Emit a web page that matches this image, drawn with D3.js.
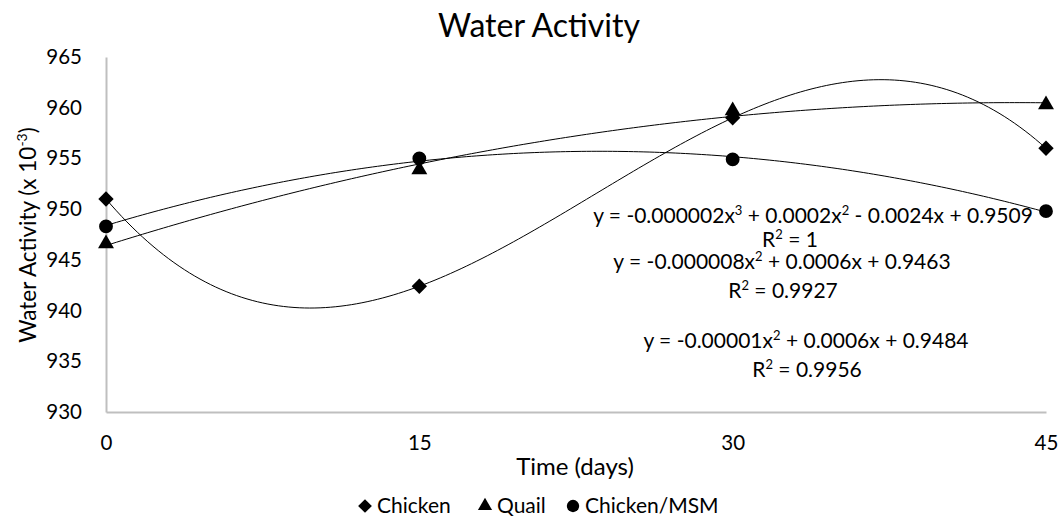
<!DOCTYPE html>
<html><head><meta charset="utf-8">
<script src="https://cdn.jsdelivr.net/npm/d3@7"></script>
<style>body{margin:0;background:#fff}svg{display:block}text{font-family:Lato,"Open Sans",sans-serif;fill:#000}</style>
</head><body><svg id="c" width="1063" height="520"></svg>
<script>
const days = [0, 15, 30, 45];
const chicken = [951.0, 942.4, 959.0, 956.0];
const quail = [946.6, 953.9, 959.7, 960.3];
const chickenMSM = [948.3, 955.0, 954.9, 949.8];
const yTicks = [930, 935, 940, 945, 950, 955, 960, 965];
const seriesNames = ["Chicken", "Quail", "Chicken/MSM"];
const trendOrders = [3, 2, 2];
const equations = [
  ["y = -0.000002x", "3", " + 0.0002x", "2", " - 0.0024x + 0.9509"],
  ["y = -0.000008x", "2", " + 0.0006x + 0.9463"],
  ["y = -0.00001x", "2", " + 0.0006x + 0.9484"]
];
const r2Labels = ["1", "0.9927", "0.9956"];

const svg = d3.select("#c");
const x = d3.scaleLinear().domain([0, 45]).range([106, 1046]);
const y = d3.scaleLinear().domain([930, 965]).range([412, 57]);

// axes
const gx = svg.append("g").attr("transform", "translate(0,412)")
  .call(d3.axisBottom(x).tickValues(days).tickSize(0).tickPadding(23));
const gy = svg.append("g").attr("transform", "translate(106,0)")
  .call(d3.axisLeft(y).tickValues(yTicks).tickSize(0).tickPadding(24));
[gx, gy].forEach(g => {
  g.select(".domain").attr("stroke", "#bfbfbf").attr("stroke-width", 2);
  g.selectAll("text").attr("font-size", 20.5).attr("font-family", "Lato");
});

// polynomial least squares
function polyfit(xs, ys, order) {
  const n = order + 1;
  const A = Array.from({length: n}, () => new Array(n + 1).fill(0));
  for (let i = 0; i < n; i++) {
    for (let j = 0; j < n; j++) A[i][j] = d3.sum(xs, xv => Math.pow(xv, i + j));
    A[i][n] = d3.sum(xs.map((xv, k) => ys[k] * Math.pow(xv, i)));
  }
  for (let c = 0; c < n; c++) {
    let p = c;
    for (let r = c + 1; r < n; r++) if (Math.abs(A[r][c]) > Math.abs(A[p][c])) p = r;
    [A[c], A[p]] = [A[p], A[c]];
    for (let r = 0; r < n; r++) if (r !== c) {
      const f = A[r][c] / A[c][c];
      for (let k = c; k <= n; k++) A[r][k] -= f * A[c][k];
    }
  }
  return A.map((row, i) => row[n] / row[i]);
}
const allSeries = [chicken, quail, chickenMSM];
const line = d3.line().x(d => x(d[0])).y(d => y(d[1]));
allSeries.forEach((vals, si) => {
  const coef = polyfit(days, vals, trendOrders[si]);
  const pts = d3.range(0, 45.01, 0.25).map(t => [t, coef.reduce((s, c, i) => s + c * Math.pow(t, i), 0)]);
  svg.append("path").attr("d", line(pts)).attr("fill", "none").attr("stroke", "#000").attr("stroke-width", 1);
});

const symTypes = [d3.symbolDiamond2, d3.symbolTriangle, d3.symbolCircle];
const symSizes = [150, 110, 150];
function marker(g, si, cx, cy, scale) {
  const s = d3.symbol().type(symTypes[si]).size(symSizes[si] * (scale || 1));
  g.append("path").attr("d", s()).attr("transform", `translate(${cx},${cy})`).attr("fill", "#000");
}
allSeries.forEach((vals, si) => {
  vals.forEach((v, i) => marker(svg, si, x(days[i]), y(v)));
});

// equation labels
const eqPos = [[813, 223], [782, 269], [806, 348]];
const r2Pos = [[790, 247], [783, 298], [807, 377]];
const fs = 21;
equations.forEach((parts, ei) => {
  const t = svg.append("text").attr("x", eqPos[ei][0]).attr("y", eqPos[ei][1])
    .attr("text-anchor", "middle").attr("font-size", fs);
  parts.forEach((p, k) => {
    if (k % 2 === 1) t.append("tspan").attr("dy", -8).attr("font-size", 13).text(p);
    else t.append("tspan").attr("dy", k === 0 ? 0 : 8).text(p);
  });
  const r = svg.append("text").attr("x", r2Pos[ei][0]).attr("y", r2Pos[ei][1])
    .attr("text-anchor", "middle").attr("font-size", fs);
  r.append("tspan").text("R");
  r.append("tspan").attr("dy", -8).attr("font-size", 13).text("2");
  r.append("tspan").attr("dy", 8).text(" = " + r2Labels[ei]);
});

// titles
svg.append("text").attr("x", 539).attr("y", 37).attr("text-anchor", "middle")
  .attr("font-size", 32).text("Water Activity");
svg.append("text").attr("x", 575).attr("y", 475).attr("text-anchor", "middle")
  .attr("font-size", 24).text("Time (days)");
const yt = svg.append("text").attr("transform", "translate(36,235) rotate(-90)")
  .attr("text-anchor", "middle").attr("font-size", 22.5);
yt.append("tspan").text("Water Activity (x 10");
yt.append("tspan").attr("dy", -9).attr("font-size", 14).text("-3");
yt.append("tspan").attr("dy", 9).text(")");

// legend
const legX = [365, 485, 573];
seriesNames.forEach((nm, si) => {
  marker(svg, si, legX[si], 506, 0.8);
  svg.append("text").attr("x", legX[si] + 12).attr("y", 513).attr("font-size", 21).text(nm);
});
</script></body></html>
